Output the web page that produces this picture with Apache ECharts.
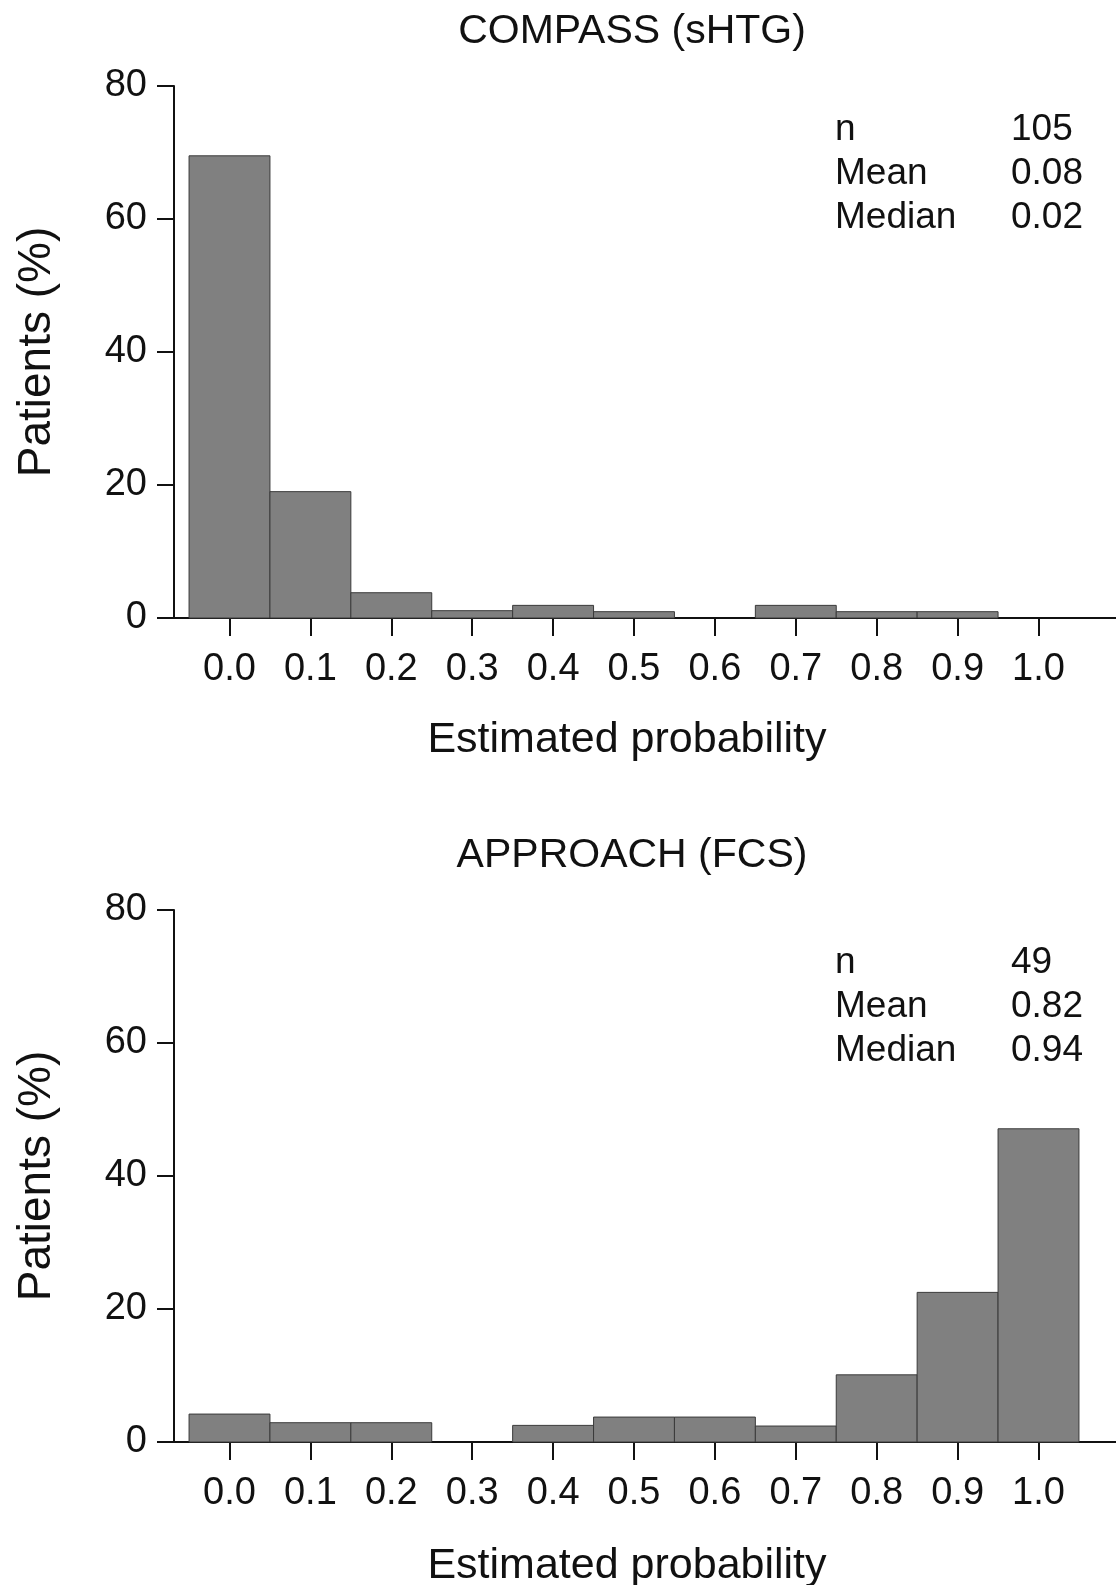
<!DOCTYPE html>
<html>
<head>
<meta charset="utf-8">
<script src="https://cdn.jsdelivr.net/npm/echarts@6/dist/echarts.min.js"></script>
<style>
  html, body { margin: 0; padding: 0; background: #fff; }
  #main { width: 1116px; height: 1585px; }
</style>
</head>
<body>
<div id="main"></div>
<script>
// bin centres of the histogram (estimated probability)
const binCenters = [0.0, 0.1, 0.2, 0.3, 0.4, 0.5, 0.6, 0.7, 0.8, 0.9, 1.0];
const tickLabels = ['0.0', '0.1', '0.2', '0.3', '0.4', '0.5', '0.6', '0.7', '0.8', '0.9', '1.0'];
const yTicks = [0, 20, 40, 60, 80];

// patients (%) per bin
const compassPct = [69.5, 19.0, 3.8, 1.1, 1.9, 0.95, 0, 1.9, 0.95, 0.95, 0];
const approachPct = [4.2, 2.9, 2.9, 0, 2.5, 3.75, 3.75, 2.4, 10.1, 22.5, 47.1];

const panelTitles = ['COMPASS (sHTG)', 'APPROACH (FCS)'];
const statNames = ['n', 'Mean', 'Median'];
const compassStats = ['105', '0.08', '0.02'];
const approachStats = ['49', '0.82', '0.94'];

const FONT = '"Liberation Sans", Arial, Helvetica, sans-serif';
const INK = '#111';
const BIN_W = 0.1;

const chart = echarts.init(document.getElementById('main'), null, { renderer: 'canvas' });

function histData(vals) {
  return binCenters.map((c, i) => [c, vals[i]]);
}

function renderBin(params, api) {
  const x = api.value(0), y = api.value(1);
  if (!y) return null;
  const p0 = api.coord([x - BIN_W / 2, y]);
  const p1 = api.coord([x + BIN_W / 2, 0]);
  return {
    type: 'rect',
    shape: { x: p0[0], y: p0[1], width: p1[0] - p0[0], height: p1[1] - p0[1] },
    style: { fill: '#808080', stroke: '#3a3a3a', lineWidth: 1 }
  };
}

function xAxisFor(gridIndex, nameGap) {
  return {
    type: 'value',
    gridIndex: gridIndex,
    min: -0.0686,
    max: 1.0958,
    name: 'Estimated probability',
    nameLocation: 'middle',
    nameGap: nameGap,
    nameTextStyle: { fontFamily: FONT, fontSize: 43, color: INK, lineHeight: 43, padding: [0, 36, 0, 0] },
    axisLine: { show: true, onZero: false, lineStyle: { color: INK, width: 2 } },
    axisTick: { show: true, customValues: binCenters, length: 18, inside: false, lineStyle: { color: INK, width: 2 } },
    axisLabel: {
      customValues: binCenters,
      margin: 33,
      fontFamily: FONT, fontSize: 38, color: INK, lineHeight: 38,
      formatter: v => tickLabels[Math.round(v * 10)]
    },
    splitLine: { show: false }
  };
}

function yAxisFor(gridIndex) {
  return {
    type: 'value',
    gridIndex: gridIndex,
    min: yTicks[0],
    max: yTicks[yTicks.length - 1],
    interval: 20,
    name: 'Patients (%)',
    nameLocation: 'middle',
    nameGap: 114,
    nameTextStyle: { fontFamily: FONT, fontSize: 46, color: INK },
    axisLine: { show: true, onZero: false, lineStyle: { color: INK, width: 2 } },
    axisTick: { show: true, length: 17, lineStyle: { color: INK, width: 2 } },
    axisLabel: { margin: 27, fontFamily: FONT, fontSize: 38, color: INK },
    splitLine: { show: false }
  };
}

const OFFSET = 824;
const STAT_SHIFT = [2, 11];
const graphics = [];
[compassStats, approachStats].forEach((stats, k) => {
  const dy = k * OFFSET;
  graphics.push({
    type: 'text', x: 632, y: 32 + dy,
    style: { text: panelTitles[k], font: '41px ' + FONT, fill: INK, textAlign: 'center', textVerticalAlign: 'middle' }
  });
  statNames.forEach((s, i) => {
    const y = 128 + i * 44 + dy + STAT_SHIFT[k];
    graphics.push({
      type: 'text', x: 835, y: y,
      style: { text: s, font: '37px ' + FONT, fill: INK, textAlign: 'left', textVerticalAlign: 'middle' }
    });
    graphics.push({
      type: 'text', x: 1011, y: y,
      style: { text: stats[i], font: '37px ' + FONT, fill: INK, textAlign: 'left', textVerticalAlign: 'middle' }
    });
  });
});

const option = {
  animation: false,
  backgroundColor: '#fff',
  grid: [
    { left: 174, right: 0, top: 86, height: 532, outerBoundsMode: 'none', containLabel: false },
    { left: 174, right: 0, top: 86 + OFFSET, height: 532, outerBoundsMode: 'none', containLabel: false }
  ],
  xAxis: [xAxisFor(0, 101), xAxisFor(1, 103)],
  yAxis: [yAxisFor(0), yAxisFor(1)],
  graphic: graphics,
  series: [
    { type: 'custom', xAxisIndex: 0, yAxisIndex: 0, renderItem: renderBin, data: histData(compassPct) },
    { type: 'custom', xAxisIndex: 1, yAxisIndex: 1, renderItem: renderBin, data: histData(approachPct) }
  ]
};

chart.setOption(option);
</script>
</body>
</html>
